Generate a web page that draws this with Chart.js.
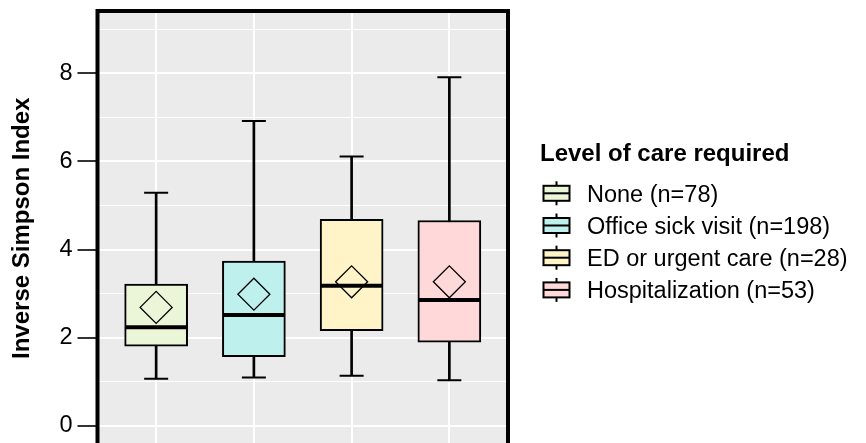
<!DOCTYPE html>
<html><head><meta charset="utf-8">
<script src="https://cdn.jsdelivr.net/npm/chart.js@4.4.1/dist/chart.umd.min.js"></script>
<style>
html,body{margin:0;padding:0;background:#fff;overflow:hidden}
#wrap{width:866px;height:443px;overflow:hidden;position:relative;background:#fff}
canvas{display:block}
</style></head><body>
<div id="wrap"><canvas id="c" width="866" height="470"></canvas></div>
<script>
// ---- data ----
const categories = ['None (n=78)', 'Office sick visit (n=198)', 'ED or urgent care (n=28)', 'Hospitalization (n=53)'];
const whiskerLow  = [1.07, 1.10, 1.14, 1.04];
const q1          = [1.81, 1.57, 2.16, 1.90];
const median      = [2.24, 2.52, 3.18, 2.86];
const q3          = [3.22, 3.74, 4.69, 4.66];
const whiskerHigh = [5.29, 6.92, 6.11, 7.91];
const mean        = [2.69, 2.99, 3.27, 3.27];
const yTicks      = [0, 1, 2, 3, 4, 5, 6, 7, 8, 9];
const yLabelTicks = [0, 2, 4, 6, 8];
const fillColors  = ['#EBF5D8', '#BEF0EE', '#FFF3C8', '#FFD9D9'];
const legendTitle = 'Level of care required';
const yTitle      = 'Inverse Simpson Index';

const FONT = '"Liberation Sans", Arial, Helvetica, sans-serif';
const xs = categories.map((_, i) => i + 1);

const panelPlugin = {
  id: 'panel',
  beforeDraw(chart) {
    const {ctx, chartArea: a} = chart;
    ctx.save();
    ctx.fillStyle = '#EBEBEB';
    ctx.fillRect(a.left, a.top, a.right - a.left, a.bottom - a.top);
    ctx.restore();
  },
  afterDraw(chart) {
    const {ctx, chartArea: a} = chart;
    ctx.save();
    ctx.strokeStyle = '#000';
    ctx.lineWidth = 4;
    ctx.strokeRect(a.left, a.top, a.right - a.left, a.bottom - a.top);
    ctx.restore();
  }
};

const legendPlugin = {
  id: 'boxLegend',
  afterDraw(chart) {
    const ctx = chart.ctx;
    ctx.save();
    ctx.fillStyle = '#000';
    ctx.textBaseline = 'alphabetic';
    ctx.textAlign = 'left';
    ctx.font = 'bold 24px ' + FONT;
    ctx.fillText(legendTitle, 540, 161);
    ctx.font = '23.5px ' + FONT;
    categories.forEach((lab, i) => {
      const base = 201.7 + i * 32.2;
      const cy = base - 8.4;
      const cx = 556.5;
      ctx.strokeStyle = '#000';
      ctx.lineWidth = 2;
      ctx.beginPath();
      ctx.moveTo(cx, cy - 12); ctx.lineTo(cx, cy + 12);
      ctx.stroke();
      ctx.fillStyle = fillColors[i];
      ctx.fillRect(543.5, cy - 7.5, 26, 15);
      ctx.strokeRect(543.5, cy - 7.5, 26, 15);
      ctx.beginPath();
      ctx.moveTo(543.5, cy); ctx.lineTo(569.5, cy);
      ctx.stroke();
      ctx.fillStyle = '#000';
      ctx.fillText(lab, 587, base);
    });
    ctx.restore();
  }
};

const capPoints = [];
xs.forEach((x, i) => { capPoints.push({x, y: whiskerLow[i]}); capPoints.push({x, y: whiskerHigh[i]}); });

new Chart(document.getElementById('c'), {
  type: 'bar',
  data: {
    datasets: [
      {
        type: 'scatter', label: 'mean', order: 1,
        data: xs.map((x, i) => ({x, y: mean[i]})),
        pointStyle: 'rectRot', pointRadius: 16, borderColor: '#000',
        backgroundColor: 'rgba(0,0,0,0)', borderWidth: 1.3
      },
      {
        type: 'scatter', label: 'median', order: 2,
        data: xs.map((x, i) => ({x, y: median[i]})),
        pointStyle: 'line', pointRadius: 31, borderColor: '#000', borderWidth: 4
      },
      {
        type: 'bar', label: 'box', order: 3,
        data: xs.map((x, i) => ({x, y: [q1[i], q3[i]]})),
        backgroundColor: fillColors, borderColor: '#000', borderWidth: 2,
        borderSkipped: false, barThickness: 63, grouped: false
      },
      {
        type: 'bar', label: 'whisker', order: 4,
        data: xs.map((x, i) => ({x, y: [whiskerLow[i], whiskerHigh[i]]})),
        backgroundColor: '#000', borderWidth: 0, barThickness: 2, grouped: false
      },
      {
        type: 'scatter', label: 'caps', order: 5,
        data: capPoints,
        pointStyle: 'line', pointRadius: 12, borderColor: '#000', borderWidth: 2
      }
    ]
  },
  options: {
    responsive: false,
    maintainAspectRatio: false,
    animation: false,
    events: [],
    layout: {autoPadding: false, padding: {top: 11, right: 358, left: 0, bottom: 0}},
    plugins: {legend: {display: false}, tooltip: {enabled: false}},
    scales: {
      x: {
        type: 'linear', min: 0.4, max: 4.6, offset: false,
        afterBuildTicks: s => { s.ticks = xs.map(v => ({value: v})); },
        afterFit: s => { s.height = 24.5; s.paddingLeft = 0; s.paddingRight = 0; },
        ticks: {display: false},
        grid: {color: '#FFFFFF', lineWidth: 2, drawTicks: false, offset: false},
        border: {display: false}
      },
      y: {
        type: 'linear', min: -0.4423, max: 9.4126,
        afterBuildTicks: s => { s.ticks = yTicks.map(v => ({value: v})); },
        afterFit: s => { s.width = 97.5; s.paddingTop = 0; s.paddingBottom = 0; },
        ticks: {
          padding: 5,
          color: '#000',
          font: {family: FONT, size: 23.5},
          callback: v => (yLabelTicks.includes(v) ? String(v) : '')
        },
        grid: {
          color: '#FFFFFF',
          lineWidth: c => (yLabelTicks.includes(c.tick.value) ? 2 : 1),
          drawTicks: true,
          tickLength: 20,
          tickWidth: 2,
          tickColor: c => (yLabelTicks.includes(c.tick.value) ? '#333333' : 'rgba(0,0,0,0)')
        },
        border: {display: false},
        title: {
          display: true, text: yTitle, color: '#000',
          font: {family: FONT, size: 24, weight: 'bold'},
          padding: {top: 8, bottom: 0}
        }
      }
    }
  },
  plugins: [panelPlugin, legendPlugin]
});
</script>
</body></html>
